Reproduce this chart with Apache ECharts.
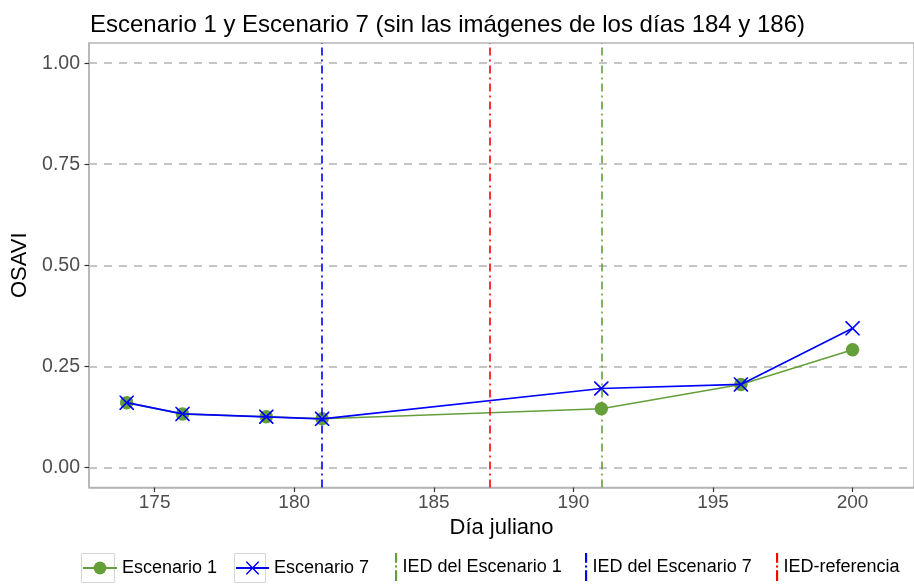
<!DOCTYPE html>
<html>
<head>
<meta charset="utf-8">
<script src="https://cdn.jsdelivr.net/npm/echarts@6/dist/echarts.min.js"></script>
<style>
html,body{margin:0;padding:0;background:#fff;}
#chart{width:914px;height:586px;}
</style>
</head>
<body>
<div id="chart"></div>
<script>
// ---- data ----
const titleText = 'Escenario 1 y Escenario 7 (sin las imágenes de los días 184 y 186)';
const days = [174, 176, 179, 181, 191, 196, 200];
const escenario1 = [0.160, 0.132, 0.125, 0.120, 0.145, 0.205, 0.291];
const escenario7 = [0.160, 0.132, 0.125, 0.120, 0.195, 0.205, 0.344];
const iedNames = ['IED del Escenario 1', 'IED del Escenario 7', 'IED-referencia'];
const iedDays = [191, 181, 187];
const xTicks = [175, 180, 185, 190, 195, 200];
const yTicks = [0, 0.25, 0.5, 0.75, 1];

const FONT = '"Liberation Sans", Arial, sans-serif';
const GREEN = '#659f3a', BLUE = '#0000ff', RED = '#ff0000';
const iedColors = [GREEN, BLUE, RED];
const crossPath = 'path://M0,0 L1.6,0 L10,8.4 L18.4,0 L20,0 L20,1.6 L11.6,10 L20,18.4 L20,20 L18.4,20 L10,11.6 L1.6,20 L0,20 L0,18.4 L8.4,10 L0,1.6 Z';
const vdashPath = 'path://M0,0H2V9H0Z M0,11.5H2V13.5H0Z M0,16H2V26H0Z';

const chart = echarts.init(document.getElementById('chart'), null, {renderer: 'canvas'});

const series = [
  {
    name: 'Escenario 1', type: 'line',
    data: days.map((d, i) => [d, escenario1[i]]),
    symbol: 'circle', symbolSize: 13.5,
    lineStyle: {color: GREEN, width: 1.6},
    itemStyle: {color: GREEN},
    z: 3
  },
  {
    name: 'Escenario 7', type: 'line',
    data: days.map((d, i) => [d, escenario7[i]]),
    symbol: crossPath, symbolSize: 14.5,
    lineStyle: {color: BLUE, width: 1.7},
    itemStyle: {color: BLUE},
    z: 4
  }
];
iedNames.forEach((n, i) => {
  series.push({
    name: n, type: 'line', data: [],
    itemStyle: {color: iedColors[i]},
    lineStyle: {color: iedColors[i]},
    markLine: {
      silent: true, symbol: 'none', label: {show: false},
      lineStyle: {color: iedColors[i], width: 1.6, type: [8, 4, 2, 4]},
      data: [{xAxis: iedDays[i]}]
    },
    z: 2
  });
});

const legendBase = {
  top: 554,
  itemWidth: 32, itemHeight: 16,
  textStyle: {fontFamily: FONT, fontSize: 18, color: '#000'},
  selectedMode: false
};
const legends = [
  Object.assign({}, legendBase, {left: 77, itemWidth: 34, data: ['Escenario 1']}),
  Object.assign({}, legendBase, {left: 230, itemWidth: 33, data: ['Escenario 7']}),
  Object.assign({}, legendBase, {left: 390, top: 548, itemWidth: 3, itemHeight: 28, data: [{name: iedNames[0], icon: vdashPath}]}),
  Object.assign({}, legendBase, {left: 580, top: 548, itemWidth: 3, itemHeight: 28, data: [{name: iedNames[1], icon: vdashPath}]}),
  Object.assign({}, legendBase, {left: 771, top: 548, itemWidth: 3, itemHeight: 28, data: [{name: iedNames[2], icon: vdashPath}]})
];

const option = {
  backgroundColor: '#ffffff',
  animation: false,
  title: {
    text: titleText, left: 85, top: 8,
    textStyle: {fontFamily: FONT, fontSize: 24, fontWeight: 'normal', color: '#000'}
  },
  legend: legends,
  graphic: [
    {type: 'rect', shape: {x: 81.5, y: 553.5, width: 33, height: 29}, style: {fill: 'none', stroke: '#d6d6d6', lineWidth: 1}, z: 0},
    {type: 'rect', shape: {x: 234.5, y: 553.5, width: 31, height: 29}, style: {fill: 'none', stroke: '#d6d6d6', lineWidth: 1}, z: 0}
  ],
  grid: {
    left: 89, right: 0, top: 43, bottom: 98.5,
    show: true, borderColor: '#b5b5b5', borderWidth: 1.5, backgroundColor: 'transparent'
  },
  xAxis: {
    type: 'value', min: 172.65, max: 202.2,
    name: 'Día juliano', nameLocation: 'middle', nameGap: 28,
    nameTextStyle: {fontFamily: FONT, fontSize: 22, color: '#000'},
    axisLine: {show: true, onZero: false, lineStyle: {color: '#b5b5b5', width: 1.5}},
    axisTick: {show: true, length: 4.5, lineStyle: {color: '#333', width: 1.2}, customValues: xTicks},
    axisLabel: {fontFamily: FONT, fontSize: 19, color: '#4d4d4d', margin: 6, customValues: xTicks},
    splitLine: {show: false}
  },
  yAxis: {
    type: 'value', min: -0.05, max: 1.05,
    name: 'OSAVI', nameLocation: 'middle', nameGap: 48, nameRotate: 90,
    nameTextStyle: {fontFamily: FONT, fontSize: 22, color: '#000'},
    axisLine: {show: true, onZero: false, lineStyle: {color: '#b5b5b5', width: 1.5}},
    axisTick: {show: true, length: 4.5, lineStyle: {color: '#333', width: 1.2}, customValues: yTicks},
    axisLabel: {fontFamily: FONT, fontSize: 19.5, color: '#4d4d4d', margin: 9, customValues: yTicks,
      formatter: v => v.toFixed(2)},
    splitLine: {show: true, lineStyle: {color: '#b3b3b3', width: 1.5, type: [8, 7]}}
  },
  series: series
};
chart.setOption(option);
</script>
</body>
</html>
